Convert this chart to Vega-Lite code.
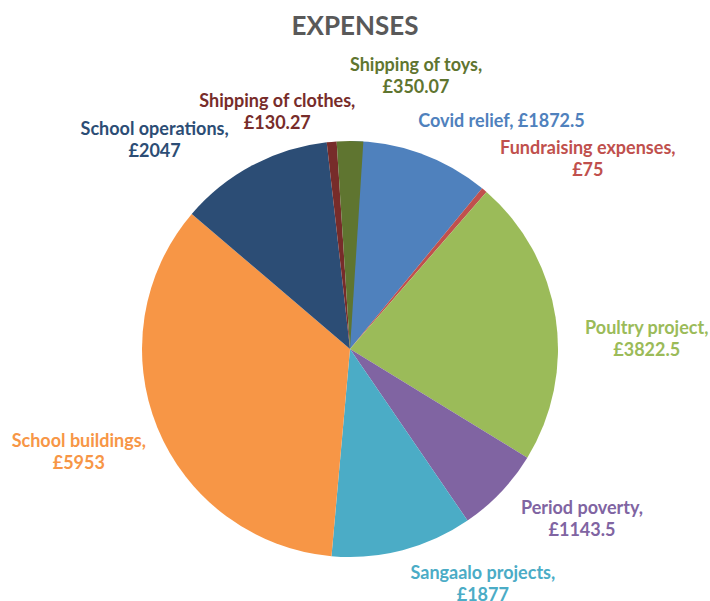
{
  "$schema": "https://vega.github.io/schema/vega-lite/v6.json",
  "width": 700,
  "height": 504,
  "autosize": {"type": "none"},
  "padding": {"left": 0, "top": 97, "right": 10, "bottom": 0},
  "background": "white",
  "title": {"text": "EXPENSES", "font": "Lato", "fontSize": 26, "fontWeight": "bold", "color": "#595959", "anchor": "middle", "offset": 17, "dx": 5},
  "config": {
    "view": {"stroke": null},
    "text": {"font": "Lato", "fontWeight": "bold", "fontSize": 18, "lineHeight": 22, "lineBreak": "\n", "align": "center", "baseline": "middle", "radius": 280}
  },
  "data": {
    "values": [
      {"idx": 1, "category": "Covid relief", "amount": 1872.5, "label": "Covid relief, £1872.5"},
      {"idx": 2, "category": "Fundraising expenses", "amount": 75, "label": "Fundraising expenses,\n£75"},
      {"idx": 3, "category": "Poultry project", "amount": 3822.5, "label": "Poultry project,\n£3822.5"},
      {"idx": 4, "category": "Period poverty", "amount": 1143.5, "label": "Period poverty,\n£1143.5"},
      {"idx": 5, "category": "Sangaalo projects", "amount": 1877, "label": "Sangaalo projects,\n£1877"},
      {"idx": 6, "category": "School buildings", "amount": 5953, "label": "School buildings,\n£5953"},
      {"idx": 7, "category": "School operations", "amount": 2047, "label": "School operations,\n£2047"},
      {"idx": 8, "category": "Shipping of clothes", "amount": 130.27, "label": "Shipping of clothes,\n£130.27"},
      {"idx": 9, "category": "Shipping of toys", "amount": 350.07, "label": "Shipping of toys,\n£350.07"}
    ]
  },
  "transform": [
    {"stack": "amount", "groupby": [], "sort": [{"field": "idx", "order": "ascending"}], "as": ["a0", "a1"]},
    {"calculate": "(datum.a0 + datum.a1) / 2", "as": "amid"}
  ],
  "encoding": {
    "color": {
      "field": "category", "type": "nominal", "legend": null,
      "scale": {
        "domain": ["Covid relief", "Fundraising expenses", "Poultry project", "Period poverty", "Sangaalo projects", "School buildings", "School operations", "Shipping of clothes", "Shipping of toys"],
        "range": ["#4F81BD", "#C0504D", "#9BBB59", "#8064A2", "#4BACC6", "#F79646", "#2C4D75", "#772C2A", "#5F7530"]
      }
    }
  },
  "layer": [
    {
      "mark": {"type": "arc", "outerRadius": 208},
      "encoding": {
        "theta": {"field": "a0", "type": "quantitative", "scale": {"nice": false, "zero": true}},
        "theta2": {"field": "a1"}
      }
    },
    {"transform": [{"filter": "datum.category === 'Covid relief'"}], "mark": {"type": "text", "dx": 57, "dy": 37}, "encoding": {"theta": {"field": "amid", "type": "quantitative"}, "text": {"field": "label"}}},
    {"transform": [{"filter": "datum.category === 'Fundraising expenses'"}], "mark": {"type": "text", "dx": 57, "dy": 14}, "encoding": {"theta": {"field": "amid", "type": "quantitative"}, "text": {"field": "label"}}},
    {"transform": [{"filter": "datum.category === 'Poultry project'"}], "mark": {"type": "text", "dx": 20, "dy": 23}, "encoding": {"theta": {"field": "amid", "type": "quantitative"}, "text": {"field": "label"}}},
    {"transform": [{"filter": "datum.category === 'Period poverty'"}], "mark": {"type": "text", "dx": 29, "dy": -33}, "encoding": {"theta": {"field": "amid", "type": "quantitative"}, "text": {"field": "label"}}},
    {"transform": [{"filter": "datum.category === 'Sangaalo projects'"}], "mark": {"type": "text", "dx": 62, "dy": -46}, "encoding": {"theta": {"field": "amid", "type": "quantitative"}, "text": {"field": "label"}}},
    {"transform": [{"filter": "datum.category === 'School buildings'"}], "mark": {"type": "text", "dx": -12, "dy": -13}, "encoding": {"theta": {"field": "amid", "type": "quantitative"}, "text": {"field": "label"}}},
    {"transform": [{"filter": "datum.category === 'School operations'"}], "mark": {"type": "text", "dx": -64, "dy": 28}, "encoding": {"theta": {"field": "amid", "type": "quantitative"}, "text": {"field": "label"}}},
    {"transform": [{"filter": "datum.category === 'Shipping of clothes'"}], "mark": {"type": "text", "dx": -48, "dy": 32}, "encoding": {"theta": {"field": "amid", "type": "quantitative"}, "text": {"field": "label"}}},
    {"transform": [{"filter": "datum.category === 'Shipping of toys'"}], "mark": {"type": "text", "dx": 66, "dy": -3}, "encoding": {"theta": {"field": "amid", "type": "quantitative"}, "text": {"field": "label"}}}
  ]
}
